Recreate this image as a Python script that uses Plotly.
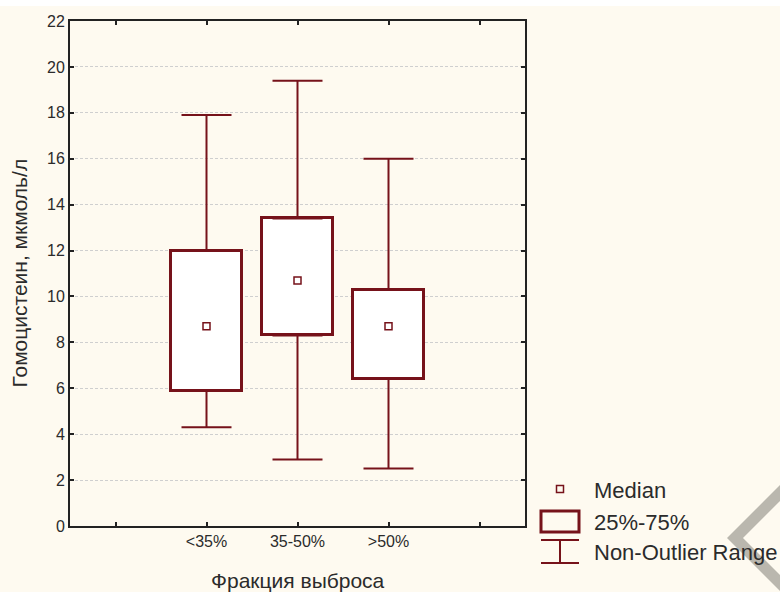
import plotly.graph_objects as go

# Box-plot summary per ejection-fraction group
categories = ["<35%", "35-50%", ">50%"]
q1 = [5.9, 8.3, 6.4]
q3 = [12.0, 13.4, 10.3]
median = [8.7, 10.7, 8.7]
whisker_low = [4.3, 2.9, 2.5]
whisker_high = [17.9, 19.4, 16.0]

y_ticks = list(range(0, 23, 2))
legend_labels = ["Median", "25%-75%", "Non-Outlier Range"]

DARK_RED = "#76121a"
TEXT = "#2b2b2b"
CREAM = "#fefaf0"
FONT = "Liberation Sans, Arial, sans-serif"

W, H = 780, 592
L, R, T, B = 70, 255, 21, 66
PW, PH = W - L - R, H - T - B

def px(x):
    return (x - L) / PW

def py(y):
    return (H - B - y) / PH

# x slots: one empty slot on each side of the groups
x_pos = [i + 1 for i in range(len(categories))]
slot_vals = list(range(len(categories) + 2))
slot_text = [""] + categories + [""]

fig = go.Figure()

# interquartile boxes
fig.add_trace(go.Bar(
    x=x_pos,
    y=[b - a for a, b in zip(q1, q3)],
    base=q1,
    width=0.78,
    marker=dict(color="white", line=dict(color=DARK_RED, width=3)),
    hoverinfo="skip",
))

# upper whiskers (from Q3 to max)
fig.add_trace(go.Scatter(
    x=x_pos, y=q3, mode="markers",
    marker=dict(size=1, color="rgba(0,0,0,0)"),
    error_y=dict(type="data", symmetric=False,
                 array=[h - b for h, b in zip(whisker_high, q3)],
                 arrayminus=[0] * len(q3),
                 color=DARK_RED, thickness=2, width=25),
    hoverinfo="skip",
))

# lower whiskers (from Q1 to min)
fig.add_trace(go.Scatter(
    x=x_pos, y=q1, mode="markers",
    marker=dict(size=1, color="rgba(0,0,0,0)"),
    error_y=dict(type="data", symmetric=False,
                 array=[0] * len(q1),
                 arrayminus=[a - l for a, l in zip(q1, whisker_low)],
                 color=DARK_RED, thickness=2, width=25),
    hoverinfo="skip",
))

# medians
fig.add_trace(go.Scatter(
    x=x_pos, y=median, mode="markers",
    marker=dict(symbol="square-open", size=7, color=DARK_RED,
                line=dict(width=1.5, color=DARK_RED)),
    hoverinfo="skip",
))

shapes = []
# cream page background below a thin white top strip
shapes.append(dict(type="rect", xref="paper", yref="paper", layer="below",
                   x0=px(0), x1=px(W), y0=py(H), y1=py(6),
                   fillcolor=CREAM, line=dict(width=0)))
# grey chevron in the lower right corner
chev = [(727, 538), (782, 483), (782, 499), (743, 538), (782, 577), (782, 593)]
path = "M " + " L ".join(f"{px(a):.5f},{py(b):.5f}" for a, b in chev) + " Z"
shapes.append(dict(type="path", xref="paper", yref="paper", layer="below",
                   path=path, fillcolor="#bab7ae", line=dict(width=0)))

# legend symbols
lx0, lx1, lxc = 541, 579, 560
shapes.append(dict(type="rect", xref="paper", yref="paper",
                   x0=px(lxc - 3.5), x1=px(lxc + 3.5), y0=py(492.5), y1=py(485.5),
                   fillcolor="rgba(0,0,0,0)", line=dict(color=DARK_RED, width=1.5)))
shapes.append(dict(type="rect", xref="paper", yref="paper",
                   x0=px(lx0), x1=px(lx1), y0=py(532), y1=py(511),
                   fillcolor="rgba(0,0,0,0)", line=dict(color=DARK_RED, width=3)))
for yy in (540, 563):
    shapes.append(dict(type="line", xref="paper", yref="paper",
                       x0=px(lx0), x1=px(lx1), y0=py(yy), y1=py(yy),
                       line=dict(color=DARK_RED, width=2)))
shapes.append(dict(type="line", xref="paper", yref="paper",
                   x0=px(lxc), x1=px(lxc), y0=py(540), y1=py(563),
                   line=dict(color=DARK_RED, width=2)))

annotations = []
for label, yy in zip(legend_labels, (491, 522, 552)):
    annotations.append(dict(text=label, xref="paper", yref="paper",
                            x=px(592), y=py(yy), xanchor="left", yanchor="middle",
                            showarrow=False, font=dict(family=FONT, size=22, color=TEXT)))
annotations.append(dict(text="Фракция выброса", xref="paper", yref="paper",
                        x=0.5, y=py(580), xanchor="center", yanchor="middle",
                        showarrow=False, font=dict(family=FONT, size=21, color=TEXT)))
annotations.append(dict(text="Гомоцистеин, мкмоль/л", xref="paper", yref="paper",
                        x=px(19), y=0.5, xanchor="center", yanchor="middle",
                        textangle=-90, showarrow=False,
                        font=dict(family=FONT, size=21, color=TEXT)))

fig.update_layout(
    width=W, height=H,
    margin=dict(l=L, r=R, t=T, b=B, pad=0),
    paper_bgcolor="white",
    plot_bgcolor="white",
    showlegend=False,
    hovermode=False,
    bargap=0,
    font=dict(family=FONT, color=TEXT),
    shapes=shapes,
    annotations=annotations,
    xaxis=dict(
        range=[-0.5, len(categories) + 1.5],
        tickvals=slot_vals, ticktext=slot_text,
        ticks="inside", ticklen=4, tickwidth=2, tickcolor="#222",
        showline=True, linewidth=2, linecolor="#222", mirror="ticks",
        showgrid=False, zeroline=False,
        tickfont=dict(family=FONT, size=16, color=TEXT),
    ),
    yaxis=dict(
        range=[0, 22],
        tickvals=y_ticks,
        ticks="inside", ticklen=4, tickwidth=2, tickcolor="#222",
        showline=True, linewidth=2, linecolor="#222", mirror="ticks",
        showgrid=True, gridcolor="#cfcfcf", gridwidth=1, griddash="3px,2px",
        zeroline=False,
        tickfont=dict(family=FONT, size=16, color=TEXT),
    ),
)

fig.write_html("out.html")
